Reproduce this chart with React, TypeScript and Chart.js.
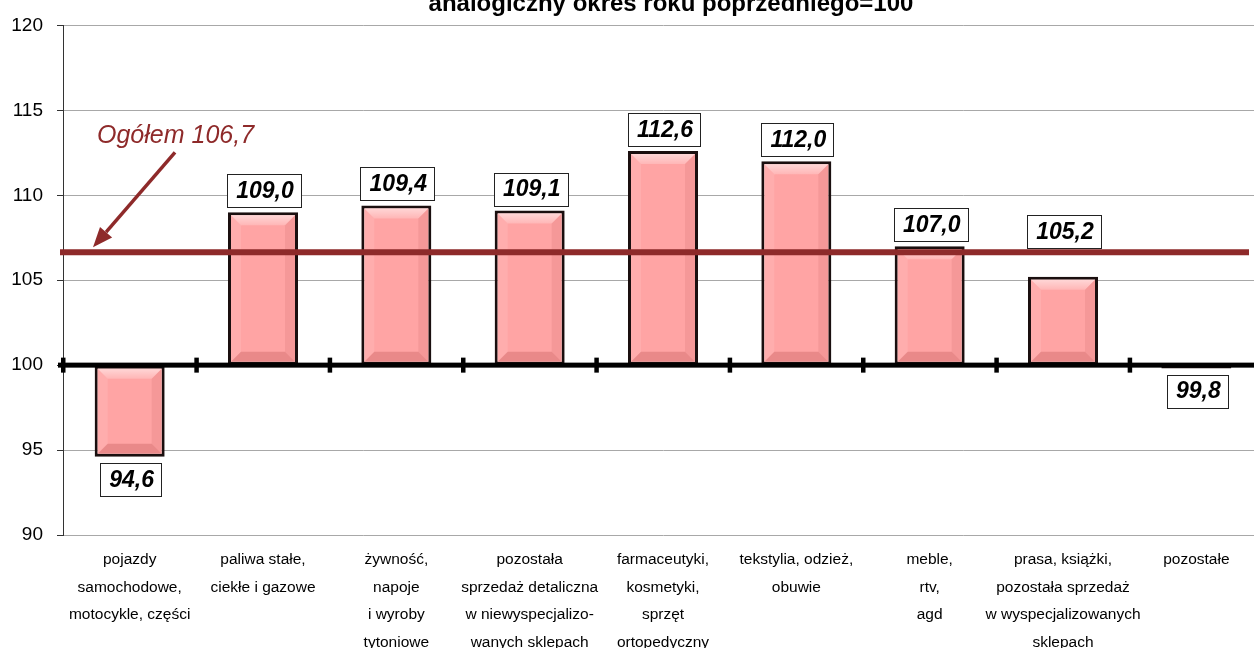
import React, { useEffect, useRef } from 'react';
import { Chart, registerables } from 'chart.js';

Chart.register(...registerables);

const categories: string[][] = [
  ['pojazdy', 'samochodowe,', 'motocykle, części'],
  ['paliwa stałe,', 'ciekłe i gazowe'],
  ['żywność,', 'napoje', 'i wyroby', 'tytoniowe'],
  ['pozostała', 'sprzedaż detaliczna', 'w niewyspecjalizo-', 'wanych sklepach'],
  ['farmaceutyki,', 'kosmetyki,', 'sprzęt', 'ortopedyczny'],
  ['tekstylia, odzież,', 'obuwie'],
  ['meble,', 'rtv,', 'agd'],
  ['prasa, książki,', 'pozostała sprzedaż', 'w wyspecjalizowanych', 'sklepach'],
  ['pozostałe'],
];
const values: number[] = [94.6, 109.0, 109.4, 109.1, 112.6, 112.0, 107.0, 105.2, 99.8];
const baseValue = 100;
const overallValue = 106.7;
const overallLabel = 'Ogółem 106,7';
const titleText = 'analogiczny okres roku poprzedniego=100';
const yMin = 90;
const yMax = 120;
const yStep = 5;

const FONT = '"Liberation Sans", Arial, sans-serif';
const LINE_RED = '#8E2A2A';
const VIEW_W = 1254;
const CANVAS_W = 1263;
const CANVAS_H = 648;

const fmt = (v: number) => v.toFixed(1).replace('.', ',');

const decorPlugin = {
  id: 'decor',
  afterDatasetsDraw(chart: any) {
    const ctx: CanvasRenderingContext2D = chart.ctx;
    const { left, right } = chart.chartArea;
    const ys = chart.scales.y;
    const meta = chart.getDatasetMeta(0);
    ctx.save();
    // bevel overlay on bars
    meta.data.forEach((bar: any) => {
      const p = bar.getProps(['x', 'y', 'base', 'width'], true);
      const bw = 3;
      const l = p.x - p.width / 2 + bw;
      const r = p.x + p.width / 2 - bw;
      const t = Math.min(p.y, p.base) + bw;
      const b = Math.max(p.y, p.base) - bw;
      if (b - t < 6) return;
      const bv = Math.min(10, (b - t) / 2);
      const poly = (pts: number[][], color: string | CanvasGradient) => {
        ctx.beginPath();
        ctx.moveTo(pts[0][0], pts[0][1]);
        for (let k = 1; k < pts.length; k++) ctx.lineTo(pts[k][0], pts[k][1]);
        ctx.closePath();
        ctx.fillStyle = color;
        ctx.fill();
      };
      const g = ctx.createLinearGradient(0, t, 0, t + bv);
      g.addColorStop(0, 'rgba(255,255,255,0.55)');
      g.addColorStop(1, 'rgba(255,255,255,0.2)');
      poly([[l, t], [r, t], [r - bv, t + bv], [l + bv, t + bv]], g);
      poly([[l, t], [l + bv, t + bv], [l + bv, b - bv], [l, b]], 'rgba(255,255,255,0.1)');
      poly([[r, t], [r - bv, t + bv], [r - bv, b - bv], [r, b]], 'rgba(120,0,0,0.07)');
      poly([[l, b], [l + bv, b - bv], [r - bv, b - bv], [r, b]], 'rgba(120,0,0,0.16)');
    });

    // baseline at 100 with category ticks
    const by = ys.getPixelForValue(baseValue);
    ctx.fillStyle = '#000';
    ctx.fillRect(left - 5, by - 2.5, right - left + 5, 5);
    const n = categories.length;
    for (let i = 0; i < n; i++) {
      const xb = left + ((right - left) * i) / n;
      ctx.fillRect(xb - 2, by - 7.5, 4.5, 15);
    }

    // overall line
    const oy = ys.getPixelForValue(overallValue) + 1;
    ctx.strokeStyle = LINE_RED;
    ctx.lineWidth = 6;
    ctx.beginPath();
    ctx.moveTo(left - 3, oy);
    ctx.lineTo(right - 14, oy);
    ctx.stroke();

    // arrow
    const tipX = left + 30;
    const tipY = oy - 5;
    const sx = tipX + 82;
    const sy = tipY - 95;
    const ang = Math.atan2(tipY - sy, tipX - sx);
    const headLen = 20;
    const headW = 8;
    const hx = tipX - headLen * Math.cos(ang);
    const hy = tipY - headLen * Math.sin(ang);
    ctx.lineWidth = 3.5;
    ctx.beginPath();
    ctx.moveTo(sx, sy);
    ctx.lineTo(hx, hy);
    ctx.stroke();
    ctx.fillStyle = LINE_RED;
    ctx.beginPath();
    ctx.moveTo(tipX, tipY);
    ctx.lineTo(hx + headW * Math.sin(ang), hy - headW * Math.cos(ang));
    ctx.lineTo(hx - headW * Math.sin(ang), hy + headW * Math.cos(ang));
    ctx.closePath();
    ctx.fill();

    // overall label
    ctx.font = `italic 25px ${FONT}`;
    ctx.textAlign = 'left';
    ctx.textBaseline = 'alphabetic';
    ctx.fillText(overallLabel, left + 34, oy - 109);

    // value boxes
    ctx.font = `italic bold 23px ${FONT}`;
    meta.data.forEach((bar: any, i: number) => {
      const p = bar.getProps(['x', 'y', 'base', 'width'], true);
      const v = values[i];
      const txt = fmt(v);
      const tw = ctx.measureText(txt).width;
      const w = Math.round(tw + 16);
      const h = 33;
      let top: number;
      if (v >= baseValue) {
        let bottom = p.y - 5;
        if (bottom > oy - 5 && bottom - h < oy + 5) bottom = oy - 4;
        top = bottom - h;
      } else {
        top = p.y + 6;
      }
      const bx = Math.round(p.x - w / 2 + 1) + 0.5;
      const byy = Math.round(top) + 0.5;
      ctx.fillStyle = '#fff';
      ctx.fillRect(bx, byy, w, h);
      ctx.strokeStyle = '#222';
      ctx.lineWidth = 1;
      ctx.strokeRect(bx, byy, w, h);
      ctx.fillStyle = '#000';
      ctx.textAlign = 'center';
      ctx.textBaseline = 'middle';
      ctx.fillText(txt, p.x + 2, top + h / 2 + 1);
    });
    ctx.restore();
  },
  afterDraw(chart: any) {
    const ctx: CanvasRenderingContext2D = chart.ctx;
    ctx.save();
    ctx.font = `bold 24px ${FONT}`;
    ctx.fillStyle = '#000';
    ctx.textAlign = 'center';
    ctx.textBaseline = 'alphabetic';
    ctx.fillText(titleText, 671, 11);
    ctx.restore();
  },
};

export default function App() {
  const ref = useRef<HTMLCanvasElement | null>(null);
  useEffect(() => {
    document.body.style.margin = '0';
    const canvas = ref.current;
    if (!canvas) return;
    const chart = new Chart(canvas, {
      type: 'bar',
      data: {
        labels: categories,
        datasets: [
          {
            data: values,
            base: baseValue,
            backgroundColor: '#FFA4A4',
            borderColor: '#1a0f0f',
            borderWidth: 3,
            borderSkipped: false,
            categoryPercentage: 1,
            barPercentage: 0.525,
          } as any,
        ],
      },
      options: {
        responsive: false,
        animation: false,
        devicePixelRatio: 1,
        layout: { padding: { top: 24, right: 0, left: 0, bottom: 0 } },
        plugins: {
          legend: { display: false },
          title: { display: false },
          tooltip: { enabled: false },
        },
        scales: {
          x: {
            grid: { display: false },
            border: { display: false },
            ticks: {
              color: '#000',
              font: { family: FONT, size: 15.5, lineHeight: 1.775 },
              padding: 3,
              maxRotation: 0,
              autoSkip: false,
            },
            afterFit(scale: any) {
              scale.height = 113;
            },
          },
          y: {
            min: yMin,
            max: yMax,
            ticks: {
              stepSize: yStep,
              color: '#000',
              font: { family: FONT, size: 19 },
              padding: 14,
            },
            grid: {
              color: '#a8a8a8',
              lineWidth: 1,
              tickLength: 6,
              tickColor: '#333',
            },
            border: { color: '#333', width: 1 },
            afterFit(scale: any) {
              scale.width = 63;
            },
          },
        },
      },
      plugins: [decorPlugin],
    });
    return () => chart.destroy();
  }, []);
  return (
    <div style={{ width: `${VIEW_W}px`, height: `${CANVAS_H}px`, overflow: 'hidden' }}>
      <canvas
        ref={ref}
        width={CANVAS_W}
        height={CANVAS_H}
        style={{ display: 'block', width: `${CANVAS_W}px`, height: `${CANVAS_H}px` }}
      />
    </div>
  );
}
